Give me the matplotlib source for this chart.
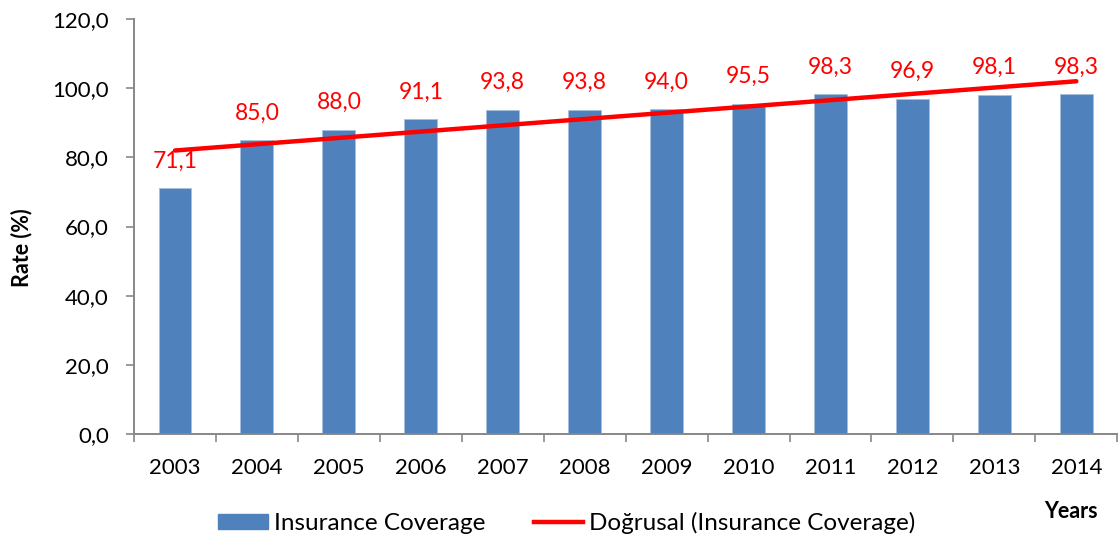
import matplotlib
matplotlib.use("Agg")
import matplotlib.pyplot as plt
import numpy as np
from matplotlib.patches import Patch
from matplotlib.lines import Line2D
from matplotlib.ticker import FuncFormatter, FixedLocator

plt.rcParams['font.family'] = ['Lato', 'DejaVu Sans']

years = ['2003', '2004', '2005', '2006', '2007', '2008',
         '2009', '2010', '2011', '2012', '2013', '2014']
coverage = [71.1, 85.0, 88.0, 91.1, 93.8, 93.8, 94.0, 95.5, 98.3, 96.9, 98.1, 98.3]

BAR_COLOR = '#4F81BD'
TREND_COLOR = '#FF0000'
AXIS_GRAY = '#878787'
FS = 16

fig = plt.figure(figsize=(11.2, 5.39), dpi=100)
ax = fig.add_axes([0.1196, 0.1948, 0.878, 0.7699])

x = np.arange(len(years))
ax.bar(x, coverage, width=0.4, color=BAR_COLOR, edgecolor='#A7C0DE', linewidth=0.6, zorder=2)

# linear trendline (Excel "Doğrusal")
slope, intercept = np.polyfit(x, coverage, 1)
ax.plot(x, slope * x + intercept, color=TREND_COLOR, lw=3.2, solid_capstyle='round', zorder=3)

for xi, v in zip(x, coverage):
    ax.annotate(f"{v:.1f}".replace('.', ','), (xi, v), xytext=(0, 19.5),
                textcoords='offset points', ha='center', va='center',
                color=TREND_COLOR, fontsize=16.5, zorder=4)

ax.set_xlim(-0.5, len(years) - 0.5)
ax.set_ylim(0, 120)
ax.set_yticks(np.arange(0, 121, 20))
ax.yaxis.set_major_formatter(FuncFormatter(lambda v, p: f"{v:.1f}".replace('.', ',')))

ax.xaxis.set_major_locator(FixedLocator(np.arange(-0.5, len(years), 1.0)))
ax.xaxis.set_minor_locator(FixedLocator(x))
ax.set_xticklabels([], minor=False)
ax.set_xticklabels(years, minor=True)
ax.tick_params(axis='x', which='major', length=6, width=1.2, color=AXIS_GRAY, direction='out')
ax.tick_params(axis='x', which='minor', length=0, pad=17, labelsize=FS)
ax.tick_params(axis='y', length=6, width=1.2, color=AXIS_GRAY, pad=12, labelsize=FS)

for s in ['top', 'right']:
    ax.spines[s].set_visible(False)
for s in ['left', 'bottom']:
    ax.spines[s].set_color(AXIS_GRAY)
    ax.spines[s].set_linewidth(1.4)

fig.text(22 / 1120, 1 - 248 / 539, 'Rate (%)', rotation=90, ha='center', va='center',
         fontsize=15.5, fontweight='bold')
fig.text(1071 / 1120, 1 - 512 / 539, 'Years', ha='center', va='center',
         fontsize=15.5, fontweight='bold')

handles = [Patch(facecolor=BAR_COLOR, edgecolor=BAR_COLOR),
           Line2D([0], [0], color=TREND_COLOR, lw=3.2)]
fig.legend(handles, ['Insurance Coverage', 'Doğrusal (Insurance Coverage)'],
           loc='center', bbox_to_anchor=(0.506, 1 - 523 / 539), ncol=2, frameon=False,
           fontsize=17.5, handlelength=2.05, handleheight=0.6, handletextpad=0.25,
           columnspacing=2.0)

fig.savefig('out.png', dpi=100)
